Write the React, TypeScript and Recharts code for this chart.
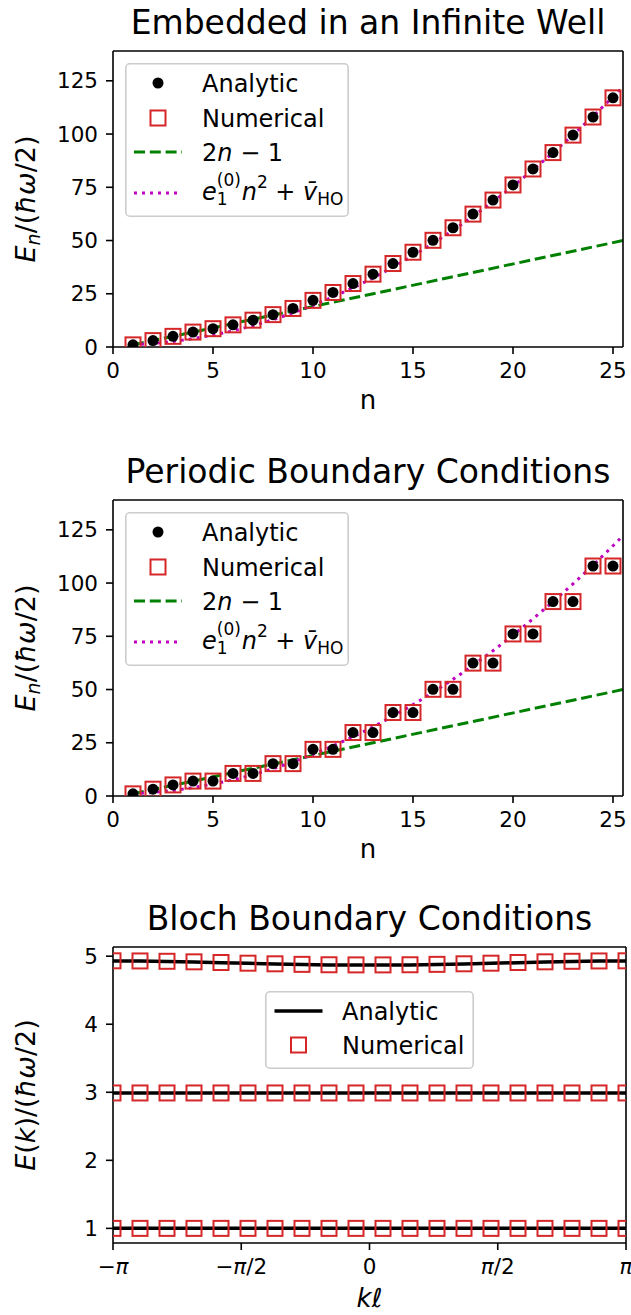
import React from "react";
import { ComposedChart, Legend, Line, ReferenceLine, Scatter, XAxis, YAxis } from "recharts";

const FONT = "'DejaVu Sans', sans-serif";
const INK = "#000000";
const RED = "#d62728";
const GREEN = "#008000";
const MAGENTA = "#bf00bf";
const FRAME = { stroke: INK, strokeWidth: 1.6 };

// panels 1 and 2: level index n and energies in units of hbar*omega/2
const LEVEL_N = [1, 2, 3, 4, 5, 6, 7, 8, 9, 10, 11, 12, 13, 14, 15, 16, 17, 18, 19, 20, 21, 22, 23, 24, 25];
const WELL_ANALYTIC = [1.0, 3.0, 5.0, 7.0, 8.6, 10.4, 12.6, 15.2, 18.1, 21.9, 25.6, 29.8, 34.2, 39.2, 44.5, 50.1, 56.0, 62.4, 69.0, 76.1, 83.6, 91.3, 99.5, 108.0, 117.0];
const WELL_NUMERIC = [1.0, 3.0, 5.0, 7.0, 8.6, 10.4, 12.6, 15.2, 18.1, 21.9, 25.6, 29.8, 34.2, 39.2, 44.5, 50.1, 56.0, 62.4, 69.0, 76.1, 83.6, 91.3, 99.5, 108.0, 117.0];
const RING_ANALYTIC = [1.0, 3.2, 5.2, 7.0, 7.0, 10.6, 10.6, 15.2, 15.2, 21.9, 21.9, 29.8, 29.8, 39.2, 39.2, 50.1, 50.1, 62.4, 62.4, 76.1, 76.1, 91.3, 91.3, 108.0, 108.0];
const RING_NUMERIC = [1.0, 3.2, 5.2, 7.0, 7.0, 10.6, 10.6, 15.2, 15.2, 21.9, 21.9, 29.8, 29.8, 39.2, 39.2, 50.1, 50.1, 62.4, 62.4, 76.1, 76.1, 91.3, 91.3, 108.0, 108.0];

// 2n - 1 reference line
const LINEAR_N = [1, 25.5];
const LINEAR_E = [1, 50];

// e1 n^2 + v_HO curve
const PARABOLA_N = [1, 2, 3, 4, 5, 6, 7, 8, 9, 10, 11, 12, 13, 14, 15, 16, 17, 18, 19, 20, 21, 22, 23, 24, 25, 25.5];
const PARABOLA_E = [1.1, 1.7, 2.6, 3.9, 5.6, 7.6, 10.0, 12.8, 16.0, 19.6, 23.5, 27.8, 32.4, 37.5, 42.9, 48.6, 54.8, 61.3, 68.2, 75.5, 83.2, 91.2, 99.6, 108.3, 117.5, 122.2];

const N_TICKS = [0, 5, 10, 15, 20, 25];
const E_TICKS = [0, 25, 50, 75, 100, 125];
const N_DOMAIN = [0, 25.5];
const E_DOMAIN = [0, 139];

// panel 3: Bloch bands against k*l
const K_VALUES = [-3.1416, -2.8109, -2.4802, -2.1495, -1.8188, -1.4881, -1.1574, -0.8267, -0.496, -0.1653, 0.1653, 0.496, 0.8267, 1.1574, 1.4881, 1.8188, 2.1495, 2.4802, 2.8109, 3.1416];
const BAND1_ANALYTIC = [1.0, 1.0, 1.0, 1.0, 1.0, 1.0, 1.0, 1.0, 1.0, 1.0, 1.0, 1.0, 1.0, 1.0, 1.0, 1.0, 1.0, 1.0, 1.0, 1.0];
const BAND2_ANALYTIC = [2.99, 2.99, 2.99, 2.99, 2.99, 2.99, 2.99, 2.99, 2.99, 2.99, 2.99, 2.99, 2.99, 2.99, 2.99, 2.99, 2.99, 2.99, 2.99, 2.99];
const BAND3_ANALYTIC = [4.93, 4.928, 4.923, 4.915, 4.905, 4.895, 4.886, 4.878, 4.872, 4.87, 4.87, 4.872, 4.878, 4.886, 4.895, 4.905, 4.915, 4.923, 4.928, 4.93];
const BAND1_NUMERIC = [1.0, 1.0, 1.0, 1.0, 1.0, 1.0, 1.0, 1.0, 1.0, 1.0, 1.0, 1.0, 1.0, 1.0, 1.0, 1.0, 1.0, 1.0, 1.0, 1.0];
const BAND2_NUMERIC = [2.99, 2.99, 2.99, 2.99, 2.99, 2.99, 2.99, 2.99, 2.99, 2.99, 2.99, 2.99, 2.99, 2.99, 2.99, 2.99, 2.99, 2.99, 2.99, 2.99];
const BAND3_NUMERIC = [4.932, 4.93, 4.925, 4.917, 4.907, 4.897, 4.888, 4.88, 4.874, 4.872, 4.872, 4.874, 4.88, 4.888, 4.897, 4.907, 4.917, 4.925, 4.93, 4.932];

const PI_TICKS = [-Math.PI, -Math.PI / 2, 0, Math.PI / 2, Math.PI];
const PI_TICK_LABELS = ["−π", "−π/2", "0", "π/2", "π"];
const K_DOMAIN = [-Math.PI, Math.PI];
const BAND_TICKS = [1, 2, 3, 4, 5];
const BAND_DOMAIN = [0.785, 5.135];

type Pt = { x: number; y: number };
const zip = (xs: number[], ys: number[]): Pt[] => xs.map((x, i) => ({ x, y: ys[i] }));

const DotShape = (p: any) => <circle cx={p.cx} cy={p.cy} r={5.5} fill={INK} />;
const SquareShape = (p: any) => (
  <rect x={p.cx - 7.5} y={p.cy - 7.5} width={15} height={15} fill="none" stroke={RED} strokeWidth={2} />
);

function TitleLabel({ viewBox, text }: any) {
  const vb = viewBox ?? { x: 113, y: 51, width: 510 };
  return (
    <text x={vb.x + vb.width / 2} y={vb.y - 17} textAnchor="middle" fontSize={33} fill={INK}>
      {text}
    </text>
  );
}

function NLabel({ viewBox }: any) {
  const vb = viewBox ?? { x: 113, y: 347, width: 510 };
  return (
    <text x={vb.x + vb.width / 2} y={vb.y + 62} textAnchor="middle" fontSize={26} fill={INK}>
      n
    </text>
  );
}

function KLabel({ viewBox }: any) {
  const vb = viewBox ?? { x: 113, y: 347, width: 513 };
  return (
    <text x={vb.x + vb.width / 2} y={vb.y + 64} textAnchor="middle" fontSize={26} fill={INK} fontStyle="italic">
      kℓ
    </text>
  );
}

function EnergyLabel({ viewBox, bloch }: any) {
  const vb = viewBox ?? { y: 51, height: 296 };
  const cx = 35;
  const cy = vb.y + vb.height / 2;
  return (
    <text x={cx} y={cy} transform={`rotate(-90 ${cx} ${cy})`} textAnchor="middle" fontSize={27} fill={INK}>
      <tspan fontStyle="italic">E</tspan>
      {bloch ? (
        <>
          <tspan>(</tspan>
          <tspan fontStyle="italic">k</tspan>
          <tspan>)/(</tspan>
        </>
      ) : (
        <>
          <tspan fontStyle="italic" fontSize={19} dy={5}>n</tspan>
          <tspan dy={-5}>/(</tspan>
        </>
      )}
      <tspan fontStyle="italic">ħω</tspan>
      <tspan>/2)</tspan>
    </text>
  );
}

function PiTick({ x, y, payload }: any) {
  const i = PI_TICKS.findIndex((t) => Math.abs(t - payload.value) < 1e-6);
  const label = PI_TICK_LABELS[i] ?? "";
  return (
    <text x={x} y={y} dy="0.71em" textAnchor="middle" fontSize={21.5} fill={INK}>
      {[...label].map((ch, j) => (
        <tspan key={j} fontStyle={ch === "π" ? "italic" : "normal"}>
          {ch}
        </tspan>
      ))}
    </text>
  );
}

function EnergyLegend() {
  return (
    <svg width={224} height={154} style={{ display: "block", fontFamily: FONT }}>
      <rect x={0.8} y={0.8} width={222.4} height={152.4} rx={4} fill="#fff" fillOpacity={0.8} stroke="#cccccc" strokeWidth={1.6} />
      <circle cx={33} cy={20} r={5.5} fill={INK} />
      <text x={77} y={28.5} fontSize={24} fill={INK}>Analytic</text>
      <rect x={25.5} y={47.5} width={15} height={15} fill="none" stroke={RED} strokeWidth={2} />
      <text x={77} y={63.5} fontSize={24} fill={INK}>Numerical</text>
      <line x1={9} x2={57} y1={89} y2={89} stroke={GREEN} strokeWidth={3} strokeDasharray="11 4.8" />
      <text x={77} y={97.5} fontSize={24} fill={INK}>
        2<tspan fontStyle="italic">n</tspan> − 1
      </text>
      <line x1={9} x2={57} y1={130} y2={130} stroke={MAGENTA} strokeWidth={3} strokeDasharray="3 5" />
      <text x={77} y={137} fontSize={24} fill={INK}>
        <tspan fontStyle="italic">e</tspan>
        <tspan fontSize={17} dy={-14}>(0)</tspan>
        <tspan fontSize={17} dx={-24} dy={19}>1</tspan>
        <tspan fontStyle="italic" dx={14} dy={-5}>n</tspan>
        <tspan fontSize={17} dy={-12}>2</tspan>
        <tspan dy={12}> + </tspan>
        <tspan fontStyle="italic">v̄</tspan>
        <tspan fontSize={17} dy={5}>HO</tspan>
      </text>
    </svg>
  );
}

function BandLegend() {
  return (
    <svg width={209} height={78} style={{ display: "block", fontFamily: FONT }}>
      <rect x={0.8} y={0.8} width={207.4} height={76.4} rx={4} fill="#fff" fillOpacity={0.8} stroke="#cccccc" strokeWidth={1.6} />
      <line x1={9.5} x2={57.5} y1={20} y2={20} stroke={INK} strokeWidth={3.5} />
      <text x={77} y={28.5} fontSize={24} fill={INK}>Analytic</text>
      <rect x={26} y={46.5} width={15} height={15} fill="none" stroke={RED} strokeWidth={2} />
      <text x={77} y={62.5} fontSize={24} fill={INK}>Numerical</text>
    </svg>
  );
}

const TICK_STYLE = { fontSize: 21.5, fill: INK };

function EnergyPanel({ title, analytic, numeric }: { title: string; analytic: number[]; numeric: number[] }) {
  return (
    <ComposedChart width={631} height={448} margin={{ top: 51, right: 8, bottom: 41, left: 0 }}>
      <XAxis
        dataKey="x"
        type="number"
        domain={N_DOMAIN}
        ticks={N_TICKS}
        interval={0}
        allowDataOverflow
        height={60}
        tickSize={7}
        tickMargin={9}
        axisLine={FRAME}
        tickLine={FRAME}
        tick={TICK_STYLE}
        label={<NLabel />}
      />
      <YAxis
        dataKey="y"
        type="number"
        domain={E_DOMAIN}
        ticks={E_TICKS}
        interval={0}
        allowDataOverflow
        width={113}
        tickSize={7}
        tickMargin={8}
        axisLine={FRAME}
        tickLine={FRAME}
        tick={TICK_STYLE}
        label={<EnergyLabel />}
      />
      <Scatter data={zip(LEVEL_N, numeric)} dataKey="y" shape={SquareShape} isAnimationActive={false} />
      <Scatter data={zip(LEVEL_N, analytic)} dataKey="y" shape={DotShape} isAnimationActive={false} />
      <Line
        data={zip(LINEAR_N, LINEAR_E)}
        dataKey="y"
        type="linear"
        stroke={GREEN}
        strokeWidth={3}
        strokeDasharray="11 4.8"
        dot={false}
        activeDot={false}
        isAnimationActive={false}
      />
      <Line
        data={zip(PARABOLA_N, PARABOLA_E)}
        dataKey="y"
        type="linear"
        stroke={MAGENTA}
        strokeWidth={3}
        strokeDasharray="3 5"
        dot={false}
        activeDot={false}
        isAnimationActive={false}
      />
      {/* top and right spines, title rides on the top one */}
      <ReferenceLine
        y={E_DOMAIN[1]}
        stroke={INK}
        strokeWidth={1.6}
        ifOverflow="visible"
        label={<TitleLabel text={title} />}
      />
      <ReferenceLine x={N_DOMAIN[1]} stroke={INK} strokeWidth={1.6} ifOverflow="visible" />
      <Legend
        layout="vertical"
        align="center"
        verticalAlign="middle"
        wrapperStyle={{ left: 125, top: 63, width: 224, height: 154 }}
        content={() => <EnergyLegend />}
      />
    </ComposedChart>
  );
}

function BlochPanel() {
  const numeric = [
    ...zip(K_VALUES, BAND1_NUMERIC),
    ...zip(K_VALUES, BAND2_NUMERIC),
    ...zip(K_VALUES, BAND3_NUMERIC),
  ];
  const bands = [BAND1_ANALYTIC, BAND2_ANALYTIC, BAND3_ANALYTIC];
  return (
    <ComposedChart width={631} height={448} margin={{ top: 51, right: 5, bottom: 41, left: 0 }}>
      <XAxis
        dataKey="x"
        type="number"
        domain={K_DOMAIN}
        ticks={PI_TICKS}
        interval={0}
        allowDataOverflow
        height={60}
        tickSize={7}
        tickMargin={9}
        axisLine={FRAME}
        tickLine={FRAME}
        tick={<PiTick />}
        label={<KLabel />}
      />
      <YAxis
        dataKey="y"
        type="number"
        domain={BAND_DOMAIN}
        ticks={BAND_TICKS}
        interval={0}
        allowDataOverflow
        width={113}
        tickSize={7}
        tickMargin={8}
        axisLine={FRAME}
        tickLine={FRAME}
        tick={TICK_STYLE}
        label={<EnergyLabel bloch />}
      />
      <Scatter data={numeric} dataKey="y" shape={SquareShape} isAnimationActive={false} />
      {bands.map((band, i) => (
        <Line
          key={`band-${i}`}
          data={zip(K_VALUES, band)}
          dataKey="y"
          type="linear"
          stroke={INK}
          strokeWidth={3.5}
          dot={false}
          activeDot={false}
          isAnimationActive={false}
        />
      ))}
      <ReferenceLine
        y={BAND_DOMAIN[1]}
        stroke={INK}
        strokeWidth={1.6}
        ifOverflow="visible"
        label={<TitleLabel text="Bloch Boundary Conditions" />}
      />
      <ReferenceLine x={K_DOMAIN[1]} stroke={INK} strokeWidth={1.6} ifOverflow="visible" />
      <Legend
        layout="vertical"
        align="center"
        verticalAlign="middle"
        wrapperStyle={{ left: 265, top: 95, width: 209, height: 78 }}
        content={() => <BandLegend />}
      />
    </ComposedChart>
  );
}

export default function App() {
  return (
    <div
      style={{
        position: "absolute",
        left: 0,
        top: 0,
        width: 631,
        height: 1315,
        background: "#fff",
        fontFamily: FONT,
      }}
    >
      <div style={{ position: "absolute", left: 0, top: 0 }}>
        <EnergyPanel title="Embedded in an Infinite Well" analytic={WELL_ANALYTIC} numeric={WELL_NUMERIC} />
      </div>
      <div style={{ position: "absolute", left: 0, top: 449 }}>
        <EnergyPanel title="Periodic Boundary Conditions" analytic={RING_ANALYTIC} numeric={RING_NUMERIC} />
      </div>
      <div style={{ position: "absolute", left: 0, top: 896 }}>
        <BlochPanel />
      </div>
    </div>
  );
}
